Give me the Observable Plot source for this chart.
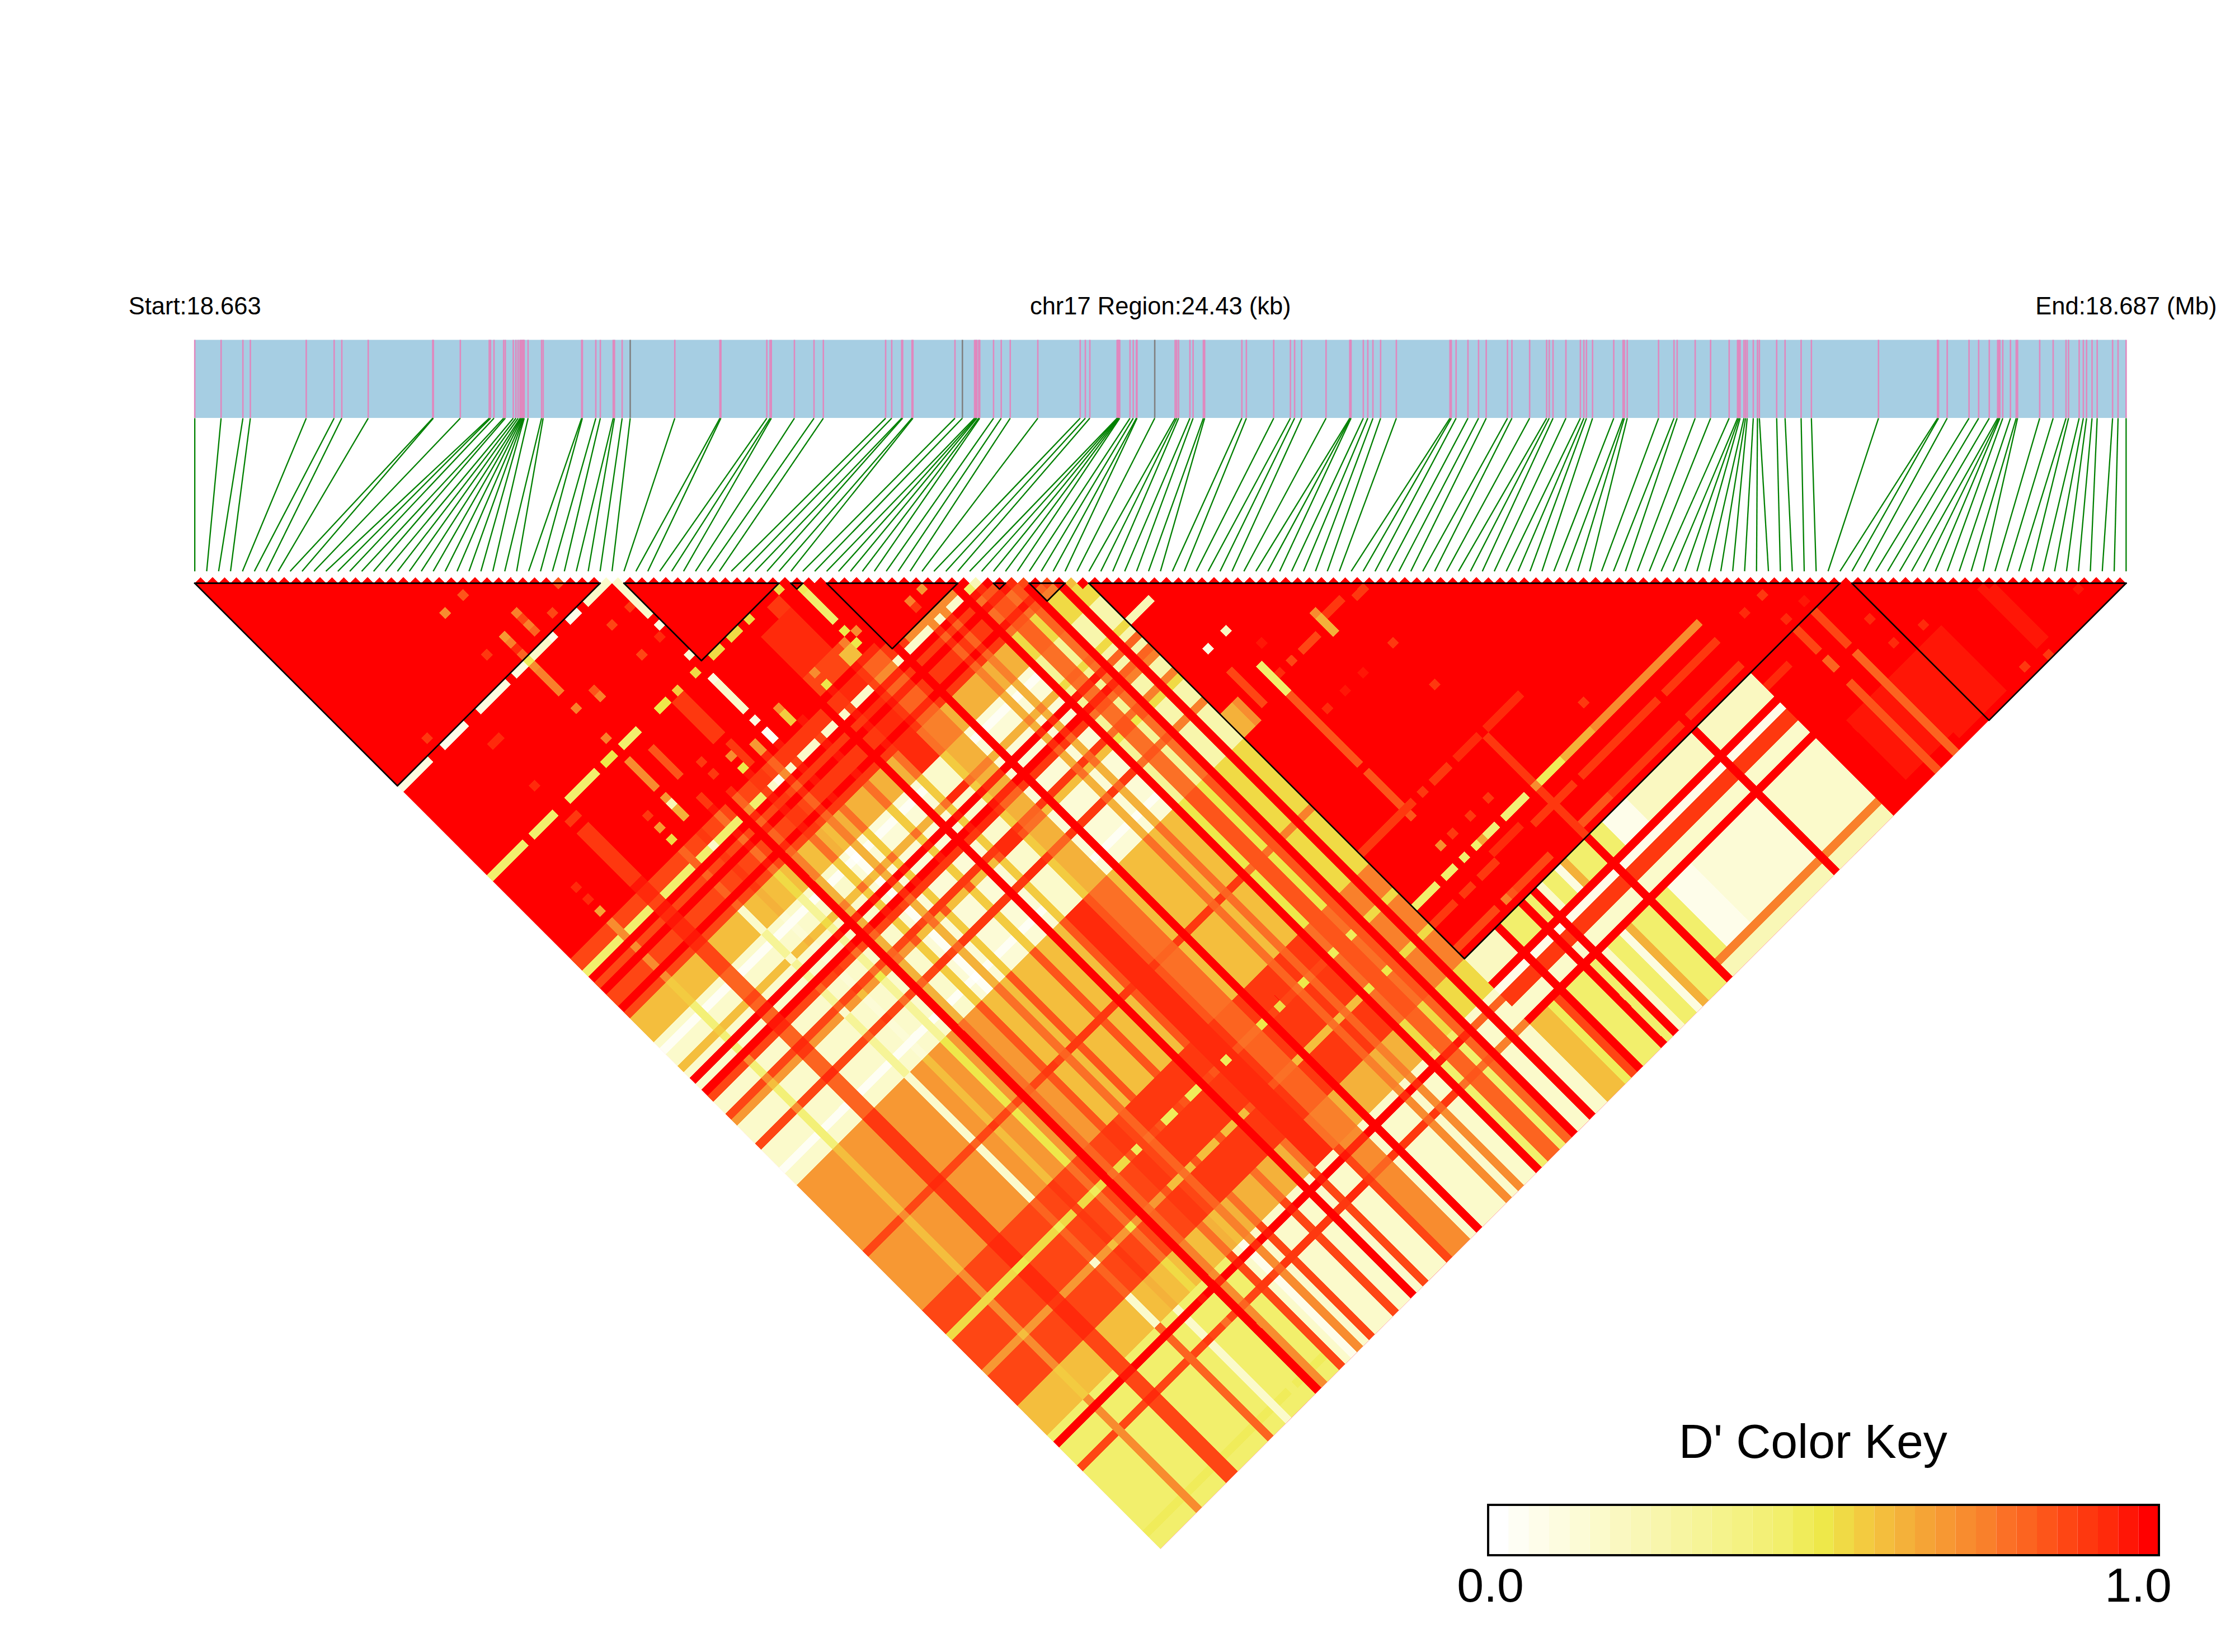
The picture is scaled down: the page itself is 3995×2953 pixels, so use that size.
<!DOCTYPE html>
<html><head><meta charset="utf-8">
<script src="https://cdn.jsdelivr.net/npm/d3@7"></script>
<script src="https://cdn.jsdelivr.net/npm/@observablehq/plot@0.6"></script>
<style>html,body{margin:0;padding:0;background:#fff}#wrap{position:relative;width:3995px;height:2953px}#wrap svg{position:absolute;font-family:"Liberation Sans"}</style>
</head><body><div id="wrap"></div>
<script>
// ---- data ----
const snpKb = [0,0.333,0.609,0.703,1.41,1.763,1.86,2.194,3.01,3.018,3.359,3.725,3.741,3.785,3.907,3.928,4.029,4.062,4.09,4.115,4.127,4.139,4.151,4.159,4.167,4.216,4.387,4.407,4.894,4.903,5.073,5.13,5.293,5.309,5.406,5.508,6.072,
6.643,6.655,7.236,7.277,7.293,7.585,7.833,7.951,8.739,8.816,8.942,8.954,9.072,9.084,9.616,9.71,9.864,9.88,9.893,9.917,9.929,10.104,10.201,10.315,10.664,11.2,11.265,11.322,11.667,11.675,11.684,11.692,11.7,11.83,11.871,11.911,11.919,12.143,
12.401,12.421,12.445,12.588,12.628,12.758,12.774,13.245,13.302,13.648,13.859,13.912,14.001,14.31,14.61,14.618,14.626,14.781,14.838,14.903,15,15.199,15.877,15.894,15.955,16.105,16.239,16.336,16.605,16.661,16.885,17.1,17.133,17.181,17.344,17.527,17.571,17.604,17.681,17.949,18.067,18.083,18.12,
18.516,18.711,18.751,18.979,19.174,19.409,19.515,19.531,19.547,19.596,19.616,19.637,19.714,19.767,19.791,20.01,20.116,20.319,20.449,21.298,22.045,22.057,22.167,22.443,22.565,22.699,22.805,22.821,22.833,22.87,22.967,23.04,23.057,23.337,23.507,23.67,23.702,23.836,23.889,23.93,23.999,24.064,24.259,24.328,24.43];
const graySnps = [35,52,74];
const regionKb = 24.43;
const ldBlocks = [[0,33],[36,48],[50,50],[53,63],[67,67],[70,72],[75,137],[139,161]];
const palette = ["#FFFFFF","#FEFEF4","#FEFDEA","#FDFCE0","#FCFBD6","#FBFACB","#FAF8C1","#F9F7B6","#F8F6AC","#F7F5A1","#F6F497","#F5F38C","#F4F282","#F3F077","#F2EF6C","#F0EC5A","#EEE84A","#F0DA45","#F3CB40","#F4BE3D","#F4B13A","#F5A436","#F79833","#F88C2F","#F9802B","#FB7026","#FC6420","#FD551A","#FE4614","#FE380F","#FF2A0B","#FF1606","#FF0000"];
// class of each SNP as the first index of a pair (i = 0..74)
const rowRuns = [[6,"a"],[1,"g"],[4,"a"],[2,"q"],[5,"a"],[1,"k"],[2,"a"],[1,"p"],[2,"a"],[1,"y"],[1,"a"],[1,"r"],[1,"o"],[2,"a"],[1,"n"],[1,"p"],[1,"w"],[1,"o"],[1,"p"],[1,"n"],[3,"p"],[1,"n"],[2,"p"],[1,"r"],[1,"p"],[1,"n"],[3,"s"],[1,"n"],[3,"o"],[1,"p"],[1,"r"],[4,"p"],[1,"o"],[1,"p"],[1,"o"],[2,"p"],[1,"r"],[1,"y"],[2,"u"],[1,"y"],[1,"u"],[1,"r"],[2,"e"],[1,"r"],[2,"e"]];
// class of each SNP as the second index of a pair (j = 62..161)
const colRuns = [[1,"X"],[2,"Q"],[1,"Y"],[1,"X"],[1,"Q"],[1,"X"],[2,"Q"],[1,"X"],[1,"Q"],[4,"G"],[1,"P"],[1,"W"],[2,"P"],[1,"G"],[1,"P"],[1,"X"],[1,"P"],[1,"X"],[1,"Q"],[2,"P"],[1,"Q"],[1,"O"],[3,"P"],[1,"Q"],[3,"P"],[1,"W"],[2,"P"],[11,"O"],[1,"Q"],[9,"O"],[4,"Q"],[1,"Z"],[2,"Q"],[1,"Q"],[2,"Q"],[1,"O"],[5,"Q"],[5,"G"],[1,"Y"],[1,"X"],[3,"Y"],[1,"Q"],[10,"Y"],[1,"H"],[2,"Y"]];
const colOrder = "XQOGYPWHZ";
const pairLevels = {
 a:[32,28,22,19,14,5,1,15,17], p:[32,29,19,20,5,4,1,5,28], w:[32,28,19,19,2,1,0,2,28], r:[32,32,32,32,32,32,32,32,32],
 q:[31,30,29,28,28,26,26,28,16], n:[31,29,27,25,28,18,18,28,27], s:[32,30,30,30,5,5,5,5,30], o:[30,26,25,24,23,20,20,23,25], g:[32,23,19,18,23,13,13,23,17],
 k:[32,26,5,5,26,10,10,26,15], y:[31,25,16,17,14,10,10,14,15], e:[26,24,17,17,5,8,8,5,17], u:[30,27,27,26,26,25,25,26,27]
};
// i = 75..122 against j >= 138
const rightRuns = [[3,19],[1,15],[1,28],[1,32],[3,14],[1,32],[1,14],[1,32],[1,5],[2,14],[1,3],[1,20],[3,14],[1,32],[2,14],[4,2],[11,4],[1,32],[9,5]];
const rightCols = {142:32,143:2,144:29,145:29,146:5,147:5,148:32};
// patches of pairs [i0,i1,j0,j1,level], painted in order
const patches = [
[0,4,34,34,3],[7,10,34,34,2],[13,17,34,34,3],[19,20,34,34,3],[21,21,34,34,15],[22,24,34,34,5],[25,25,34,34,2],[28,29,34,34,2],[31,33,34,34,5],
[0,5,49,49,14],[7,10,49,49,14],[13,17,49,49,14],[19,20,49,49,16],[22,24,49,49,14],[28,29,49,49,16],[31,31,49,49,18],[34,34,49,49,17],[37,38,49,49,17],[40,41,49,49,17],[43,43,49,49,17],[48,48,49,49,17],
[35,35,36,40,5],[35,35,42,42,3],[35,35,47,47,4],[35,35,51,51,3],[35,35,52,56,5],[35,35,58,58,3],[35,35,60,61,1],
[21,21,23,23,27],[18,18,23,23,23],[27,27,32,32,28],[31,31,38,38,28],[34,34,43,43,30],[31,31,43,43,28],[18,18,30,30,29],[6,6,32,32,29],[11,12,38,38,30],[11,11,45,45,30],
[21,21,47,47,24],[21,21,51,51,23],[21,21,42,42,24],[21,21,38,39,24],[24,24,42,42,27],[24,24,43,43,24],
[24,24,29,29,24],[24,24,30,30,28],[24,24,31,31,24],[24,24,32,32,26],[21,21,30,30,22],[21,21,31,31,24],[21,21,32,32,30],[21,21,33,33,26],[21,21,35,35,23],[21,21,36,37,24],
[24,24,52,56,27],[21,21,52,55,23],[21,21,57,57,22],[21,21,58,58,7],[21,21,59,60,20],[24,24,60,61,29],[18,18,57,57,29],[18,18,59,59,22],[18,18,61,61,17],
[11,12,51,51,29],[11,12,53,61,29],[27,27,57,57,29],[27,27,59,59,29],[6,6,57,57,30],[6,6,59,59,30],[6,6,61,61,21],[34,34,38,38,29],
[30,31,50,56,29],[31,31,58,61,29],[30,30,59,59,23],[30,30,61,61,16],[33,33,60,61,22],[38,38,60,61,18],[38,38,59,59,23],
[46,47,50,52,29],[43,47,52,58,30],[43,48,59,61,28],[50,50,51,51,15],[50,50,52,56,14],[50,50,58,58,16],[50,50,60,60,16],[51,51,59,59,23],[49,49,59,59,24],[48,49,60,61,19],[44,44,61,61,16],[44,44,59,59,23],
[53,63,53,63,32],[58,58,61,61,24],[60,60,61,61,22],[58,58,62,62,29],[55,62,64,64,23],
[31,31,126,126,15],[36,37,126,126,15],[40,41,126,126,15],[46,46,126,126,15],[52,52,126,126,16],[55,55,126,126,17],[59,59,126,126,16],
[82,82,90,90,6],[79,79,90,90,3],[75,78,81,81,7],[91,91,96,96,23],[91,91,97,99,20],[92,94,97,97,29],[96,97,98,98,29],[87,89,98,98,28],[84,84,94,94,31],[85,85,98,98,28],[95,95,105,105,29],[90,90,105,105,31],[87,87,105,105,31],[84,84,105,105,30],
[82,82,96,100,14],[83,83,98,98,30],[82,82,101,112,27],[82,82,114,121,27],[79,79,94,99,28],[75,76,97,100,20],[77,77,97,100,23],[75,79,120,120,29],
[113,122,129,129,23],[114,122,132,132,29],[114,122,136,136,29],[100,112,132,132,29],[101,112,136,136,29],[95,100,136,136,27],[96,101,120,120,30],[91,94,120,120,30],[87,89,120,120,29],[95,95,121,137,29],[80,83,120,120,29],
[95,112,129,129,23],[100,104,129,129,20],[96,99,129,129,15],
[95,95,112,112,29],[106,106,126,126,29],[85,85,120,120,29],[90,90,126,126,29],[87,87,126,126,29],[84,84,126,126,29],[82,82,126,126,23],
[85,85,129,129,14],[83,83,129,129,14],[80,81,129,129,14],[75,78,129,129,14],[87,88,129,129,13],[90,93,129,129,13],[86,86,129,129,21],
[86,90,131,131,30],[92,98,132,132,29],[80,81,132,132,29],[83,85,132,132,29],[85,90,136,136,28],[84,84,136,136,27],[83,83,136,136,24],[75,81,136,136,28],[75,78,132,132,29],
[133,133,138,143,28],[130,130,138,141,28],[130,130,143,144,26],[133,133,145,148,26],[123,126,140,140,30],[130,130,132,132,29],[133,133,136,136,31],[130,130,136,136,30],[127,127,132,132,30],
[127,142,150,159,31],[133,133,149,161,26],[130,130,148,161,27],[149,150,150,159,31],[135,142,160,160,31],
[141,141,148,148,30],[137,137,147,147,30],[137,137,143,143,30],[146,146,160,160,29],[149,149,161,161,29],[157,157,158,158,31],[130,130,147,147,27]
];
const toothLevels = {30:27,34:5,35:5,65:7,68:30,69:28,71:28,73:19};
const startLabel = "Start:18.663", middleLabel = "chr17 Region:24.43 (kb)", endLabel = "End:18.687 (Mb)";
const keyTitle = "D' Color Key", keyLabels = [["0.0",0.1],["1.0",31.97]];

// ---- layout ----
const N = 162, unit = 21.31, originX = 358.3, originY = 1042;
const trackTop = -20.39, trackBottom = -13.84, linkBottom = -1.0, labelY = -23.2;
const expand = runs => runs.flatMap(([n,c]) => Array(n).fill(c));
const rowClass = expand(rowRuns), colClass = expand(colRuns), rightBase = expand(rightRuns);
function baseLevel(i,j){
  if (i >= 123) return 32;
  if (i >= 75) {
    if (j <= 137) return 32;
    const b = rightBase[i-75];
    if (b === 32) return 32;
    if (rightCols[j] !== undefined) return rightCols[j];
    if (j <= 141) return (i >= 98 || i <= 79) ? (i>=98 && i<=101 ? 2 : 6) : b;
    if (j === 159 && i >= 96) return 24;
    if (j >= 160 && i >= 96) return 7;
    return b;
  }
  if (j < 62) return 32;
  return pairLevels[rowClass[i]][colOrder.indexOf(colClass[j-62])];
}
const M = new Map();
const key = (i,j) => i*1000+j;
for (let i=0;i<N;i++) for (let j=i+1;j<N;j++) M.set(key(i,j), baseLevel(i,j));
for (const [a,b,c,d,l] of patches) for (let i=a;i<=b;i++) for (let j=c;j<=d;j++) if (j>i) M.set(key(i,j), l);
for (let i=0;i<N;i++) M.set(key(i,i), toothLevels[i] ?? 32);
const corners = (i,j,id,lvl) => [[0,-.5],[.5,0],[0,.5],[-.5,0],[0,-.5]].map(([dx,dy]) => ({x:(i+j)/2+dx, y:(j-i)/2+dy, id, lvl}));
let cells = [];
let id = 0;
M.forEach((lvl,k) => { const i=Math.floor(k/1000), j=k%1000; if (lvl!==32 || i===j) cells.push(...corners(i,j,id++,lvl)); });
const base = [[-.5,0],[N-.5,0],[(N-1)/2,N/2],[-.5,0]].map(([x,y]) => ({x,y}));
const blockLines = ldBlocks.flatMap(([a,b],n) => [[a-.5,0],[(a+b)/2,(b-a+1)/2],[b+.5,0]].map(([x,y]) => ({x,y,n})));
const toX = kb => -.5 + kb/regionKb*N;
const snps = snpKb.map((kb,k) => ({x1:toX(kb), x2:k-.5, gray:graySnps.includes(k)}));

const plot = Plot.plot({
  width:3995, height:2953, margin:0,
  style:{background:"transparent"},
  x:{domain:[0,N-1], range:[originX, originX+(N-1)*unit], axis:null},
  y:{domain:[0,81], range:[originY, originY+81*unit], axis:null},
  color:{type:"ordinal", domain:d3.range(33), range:palette},
  marks:[
    Plot.rect([0],{x1:-.5,x2:N-.5,y1:trackTop,y2:trackBottom,fill:"#A6CEE3"}),
    Plot.ruleX(snps.filter(d=>!d.gray),{x:"x1",y1:trackTop,y2:trackBottom,stroke:"#E088BE",strokeWidth:2.6}),
    Plot.ruleX(snps.filter(d=>d.gray),{x:"x1",y1:trackTop,y2:trackBottom,stroke:"#808080",strokeWidth:2.6}),
    Plot.link(snps,{x1:"x1",x2:"x2",y1:trackBottom,y2:linkBottom,stroke:"#008000",strokeWidth:2.3}),
    Plot.line(base,{x:"x",y:"y",fill:"#FF0000",stroke:"none"}),
    Plot.line(cells,{x:"x",y:"y",z:"id",fill:"lvl",stroke:"none",shapeRendering:"crispEdges"}),
    Plot.line(blockLines,{x:"x",y:"y",z:"n",stroke:"#000",strokeWidth:2.6}),
    Plot.line(ldBlocks.flatMap(([a,b],n)=>[{x:a-.5,y:0,n},{x:b+.5,y:0,n}]),{x:"x",y:"y",z:"n",stroke:"#000",strokeWidth:3.2}),
    Plot.text([startLabel],{x:-.5,y:labelY,text:d=>d,fontSize:43.5,fill:"#000",fontFamily:"Liberation Sans"}),
    Plot.text([middleLabel],{x:(N-1)/2,y:labelY,text:d=>d,fontSize:43.5,fill:"#000",fontFamily:"Liberation Sans"}),
    Plot.text([endLabel],{x:N-.5,y:labelY,text:d=>d,fontSize:43.5,fill:"#000",fontFamily:"Liberation Sans"})
  ]
});
plot.style.left="0"; plot.style.top="0";
document.getElementById("wrap").append(plot);

// colour key
const keyPlot = Plot.plot({
  width:1400, height:400, margin:0,
  style:{background:"transparent",left:"2560px",top:"2500px"},
  x:{domain:[0,33], range:[100,1299], axis:null},
  y:{domain:[0,4], range:[0,400], axis:null},
  color:{type:"ordinal", domain:d3.range(33), range:palette},
  marks:[
    Plot.rect(d3.range(33),{x1:d=>d,x2:d=>d+1,y1:1.9,y2:2.8,fill:d=>d}),
    Plot.rect([0],{x1:0,x2:33,y1:1.9,y2:2.8,fill:"none",stroke:"#000",strokeWidth:4}),
    Plot.text([keyTitle],{x:15.97,y:0.78,text:d=>d,fontSize:86,fill:"#000",fontFamily:"Liberation Sans"}),
    Plot.text(keyLabels,{x:d=>d[1],y:3.35,text:d=>d[0],fontSize:86,fill:"#000",fontFamily:"Liberation Sans"})
  ]
});
document.getElementById("wrap").append(keyPlot);
</script></body></html>
